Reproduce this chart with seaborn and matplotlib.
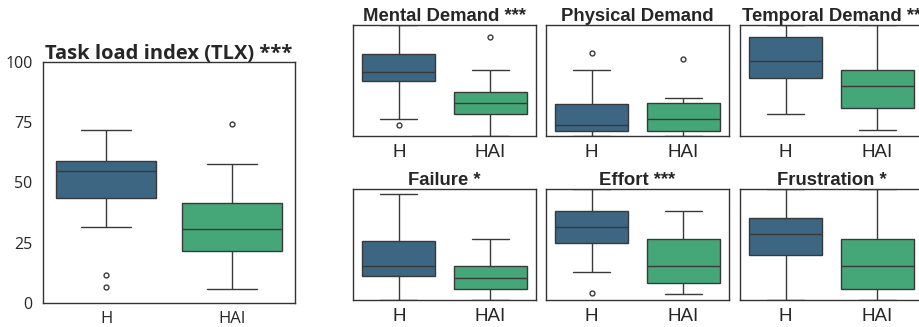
import pandas as pd
import matplotlib.pyplot as plt
import seaborn as sns

groups = ["H", "HAI"]

tlx_h = [6.6, 11.6, 31.7, 43.6, 47, 52, 54.6, 56, 58, 59.0, 63, 67, 71.8]
tlx_hai = [5.9, 14, 18, 21.7, 25, 28, 30.8, 35, 38, 41.6, 48, 57.5, 74.3]

mental_h = [9.9, 15.3, 40, 49.8, 52, 55, 57.7, 62, 68, 73.6, 80, 90, 100]
mental_hai = [0, 10, 15, 19.8, 24, 27, 30, 33, 36, 39.9, 45, 59.5, 89.5]
physical_h = [0, 0, 0, 4.8, 5, 8, 9.9, 15, 20, 28.5, 40, 59.5, 75.1]
physical_hai = [0, 0, 0, 4.8, 8, 12, 15.3, 20, 25, 29.4, 30, 34.5, 69.7]
temporal_h = [19.8, 30, 45, 52, 58, 63, 67.3, 75, 82, 89.5, 95, 100, 100]
temporal_hai = [5.1, 15, 20, 24.9, 32, 40, 44.7, 50, 55, 59.5, 70, 85, 100]
failure_h = [0, 5, 15, 21.4, 25, 28, 30.4, 38, 45, 53.6, 65, 80, 95.2]
failure_hai = [0, 0, 5, 9.9, 12, 15, 20.2, 24, 28, 30.4, 40, 45, 55.1]
effort_h = [6.3, 25, 40, 51.2, 55, 60, 65.4, 70, 75, 79.8, 85, 95, 100]
effort_hai = [5.4, 8, 12, 15.1, 20, 25, 30.4, 40, 48, 54.8, 65, 70, 79.8]
frustration_h = [0, 15, 30, 40.1, 48, 55, 59.6, 65, 70, 73.8, 80, 90, 100]
frustration_hai = [0, 3, 5, 9.9, 15, 22, 30.4, 40, 48, 54.8, 70, 85, 100]

subscales = [
    ("Mental Demand ***", mental_h, mental_hai),
    ("Physical Demand", physical_h, physical_hai),
    ("Temporal Demand **", temporal_h, temporal_hai),
    ("Failure *", failure_h, failure_hai),
    ("Effort ***", effort_h, effort_hai),
    ("Frustration *", frustration_h, frustration_hai),
]


def to_long(h, hai):
    return pd.DataFrame({
        "group": ["H"] * len(h) + ["HAI"] * len(hai),
        "score": list(h) + list(hai),
    })


sns.set_style("white")
plt.rcParams["font.family"] = ["Liberation Sans", "DejaVu Sans"]
plt.rcParams["axes.edgecolor"] = "#333333"
plt.rcParams["axes.linewidth"] = 1.0

palette = sns.color_palette("viridis", 2)
big_font = ["Open Sans", "DejaVu Sans"]

fig = plt.figure(figsize=(9.19, 3.27), dpi=100)
W, H = 919, 327


def px_axes(left, top, width, height):
    return fig.add_axes([left / W, (H - top - height) / H, width / W, height / H])


# big panel
ax = px_axes(43, 62, 252, 241)
sns.boxplot(data=to_long(tlx_h, tlx_hai), x="group", y="score", hue="group",
            order=groups, palette=palette, legend=False, ax=ax,
            linewidth=1, fliersize=3.5)
ax.set_ylim(0, 100)
ax.set_yticks([0, 25, 50, 75, 100])
ax.set_xlabel("")
ax.set_ylabel("")
ax.set_title("Task load index (TLX) ***", family=big_font,
             fontweight="bold", fontsize=14.5, pad=2)
for lab in ax.get_yticklabels():
    lab.set_family(big_font)
    lab.set_fontsize(11.5)
for lab in ax.get_xticklabels():
    lab.set_family(big_font)
    lab.set_fontsize(12)
ax.tick_params(axis="y", pad=4)
ax.tick_params(axis="x", pad=2)

# subscales
lefts = [353, 546, 740]
tops = [25, 189]
for i, (title, h, hai) in enumerate(subscales):
    ax = px_axes(lefts[i % 3], tops[i // 3], 183, 111)
    sns.boxplot(data=to_long(h, hai), x="group", y="score", hue="group",
                order=groups, palette=palette, legend=False, ax=ax,
                linewidth=1, fliersize=3.5)
    ax.set_ylim(0, 100)
    ax.set_yticks([])
    ax.set_xlabel("")
    ax.set_ylabel("")
    ax.set_title(title, fontweight="bold", fontsize=13.3, pad=3)
    ax.tick_params(axis="x", labelsize=13.5, pad=2)

fig.savefig("out.png", dpi=100)
